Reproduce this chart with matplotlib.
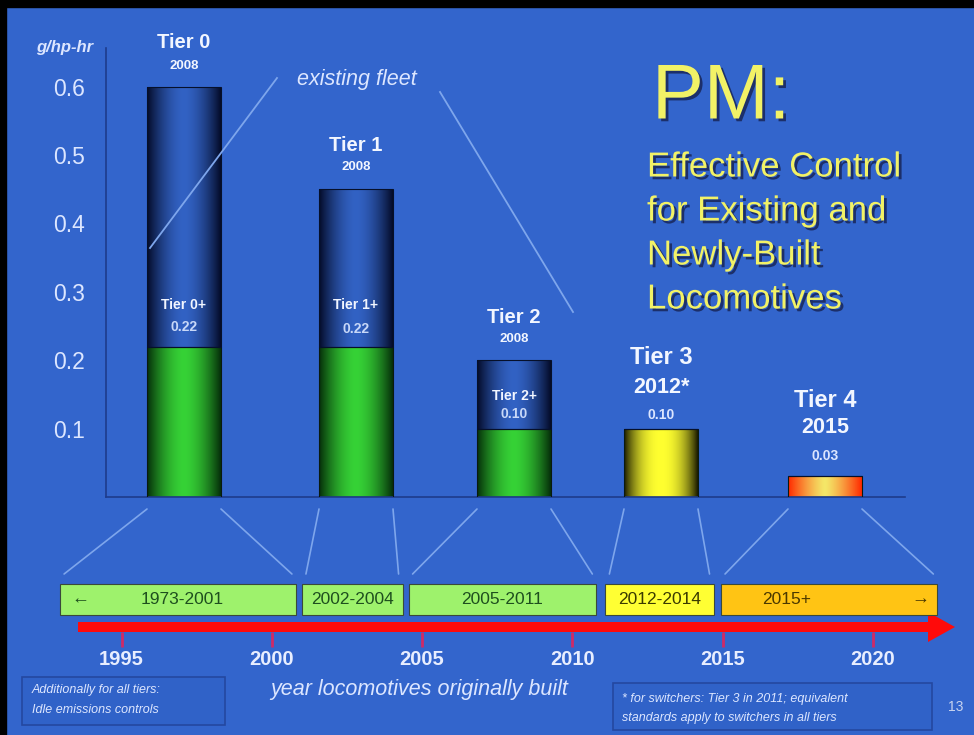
import numpy as np
import matplotlib
matplotlib.use('Agg')
import matplotlib.pyplot as plt
import matplotlib.patheffects as pe
from matplotlib.colors import to_rgb
from matplotlib.patches import Rectangle, FancyArrow, ConnectionPatch

plt.rcParams['font.family'] = ['Liberation Sans', 'DejaVu Sans']

# data
tiers = ['Tier 0', 'Tier 1', 'Tier 2', 'Tier 3', 'Tier 4']
tier_years = ['2008', '2008', '2008', '2012*', '2015']
original = [0.60, 0.45, 0.20, 0.10, 0.03]
reman = [0.22, 0.22, 0.10, None, None]
plus_names = ['Tier 0+', 'Tier 1+', 'Tier 2+']
plus_values = ['0.22', '0.22', '0.10']
new_values = [None, None, None, '0.10', '0.03']
yticks = [0.1, 0.2, 0.3, 0.4, 0.5, 0.6]

ranges = ['1973-2001', '2002-2004', '2005-2011', '2012-2014', '2015+']
years = [1995, 2000, 2005, 2010, 2015, 2020]

# layout (pixels / years)
W, H = 974, 735
BG = '#3365CC'
bar_x = [184, 356, 514, 661, 825]
bar_w = 74
name_off = [44, 44, 43, 71, 76]
year_off = [21, 22, 21, 41, 49]
val_off = [None, None, None, 14, 20]
plus_off = [(42, 20), (42, 18), (33, 15)]
box_left = [1992.95, 2001.0, 2004.55, 2011.1, 2014.95]
box_right = [2000.8, 2004.35, 2010.8, 2014.7, 2022.15]
box_colors = ['#9EF26C', '#9EF26C', '#9EF26C', '#FFFF33', '#FFC414']
box_text = ['#1E4F1E', '#1E4F1E', '#1E4F1E', '#3A3A00', '#4A3800']
yr0, yr1 = 1990.95, 2023.37


def grad(edge, center, n=80, p=1.7):
    t = np.linspace(0, 1, n)
    w = 1 - np.abs(2 * t - 1) ** p
    e = np.array(to_rgb(edge))
    c = np.array(to_rgb(center))
    return (e[None, :] * (1 - w[:, None]) + c[None, :] * w[:, None])[None, :, :]


def fill_bars(ax, bars, grads):
    for b, g in zip(bars, grads):
        if b.get_height() <= 0:
            continue
        x0, y0 = b.get_x(), b.get_y()
        im = ax.imshow(g, extent=(x0, x0 + b.get_width(), y0, y0 + b.get_height()),
                       aspect='auto', zorder=2, interpolation='bicubic')
        im.set_clip_path(b)


fig = plt.figure(figsize=(W / 100, H / 100), dpi=100)
fig.patch.set_facecolor(BG)

bg = fig.add_axes([0, 0, 1, 1], zorder=0)
bg.set_xlim(0, W)
bg.set_ylim(H, 0)
bg.axis('off')
bg.add_patch(Rectangle((0, 0), 6, H, color='black'))
bg.add_patch(Rectangle((0, 0), W, 7, color='black'))

# main chart
ax = fig.add_axes([106 / W, 1 - 497 / H, 799 / W, 449 / H], zorder=2)
ax.patch.set_alpha(0)
lower = [r if r is not None else o for r, o in zip(reman, original)]
upper = [o - l for o, l in zip(original, lower)]
b_low = ax.bar(bar_x, lower, width=bar_w, facecolor='none', edgecolor='#0A1A10', lw=0.8, zorder=3)
b_up = ax.bar(bar_x, upper, bottom=lower, width=bar_w, facecolor='none', edgecolor='#06102A', lw=0.8, zorder=3)
green = grad('#06300A', '#36D236')
low_grads = [green, green, green, grad('#1E1E00', '#FFFF30', p=2.2), grad('#FF2A00', '#F4E868', p=1.3)]
fill_bars(ax, b_low, low_grads)
fill_bars(ax, b_up, [grad('#040C2A', '#3262C4')] * 5)

ax.set_xlim(106, 905)
ax.set_ylim(0, 449 / 684)
ax.set_xticks([])
ax.set_yticks(yticks)
ax.set_yticklabels([f'{v:.1f}' for v in yticks])
ax.tick_params(axis='y', length=0, pad=15, labelsize=16.5, labelcolor='#DCE6FF')
for s in ['top', 'right']:
    ax.spines[s].set_visible(False)
for s in ['left', 'bottom']:
    ax.spines[s].set_color('#1E3C8C')
    ax.spines[s].set_linewidth(1.2)

bg.text(93, 47, 'g/hp-hr', ha='right', va='center', fontsize=12, fontweight='bold',
        style='italic', color='#DCE6FF')

k = 72 / 100
for i, (x, top) in enumerate(zip(bar_x, original)):
    big = i >= 3
    ax.annotate(tiers[i], (x, top), xytext=(0, name_off[i] * k), textcoords='offset points',
                ha='center', va='center', fontsize=17 if big else 14.5, fontweight='bold',
                color='#F2F6FF', annotation_clip=False)
    ax.annotate(tier_years[i], (x, top), xytext=(0, year_off[i] * k), textcoords='offset points',
                ha='center', va='center', fontsize=15.5 if big else 9.5, fontweight='bold',
                color='#F2F6FF', annotation_clip=False)
    if new_values[i]:
        ax.annotate(new_values[i], (x, top), xytext=(0, val_off[i] * k), textcoords='offset points',
                    ha='center', va='center', fontsize=10, fontweight='bold', color='#DCE6FF')
for i in range(3):
    ax.annotate(plus_names[i], (bar_x[i], reman[i]), xytext=(0, plus_off[i][0] * k),
                textcoords='offset points', ha='center', va='center', fontsize=10,
                fontweight='bold', color='#F2F6FF', zorder=5)
    ax.annotate(plus_values[i], (bar_x[i], reman[i]), xytext=(0, plus_off[i][1] * k),
                textcoords='offset points', ha='center', va='center', fontsize=10,
                fontweight='bold', color='#C8D8F8', zorder=5)

# existing fleet callout
ax.text(357, (497 - 80) / 684, 'existing fleet', ha='center', va='center', fontsize=15.5,
        style='italic', color='#DCE6FF')
ax.plot([277, 150], [(497 - 78) / 684, (497 - 248) / 684], color='#7EA6EC', lw=1.3, zorder=4, clip_on=False)
ax.plot([440, 573], [(497 - 92) / 684, (497 - 312) / 684], color='#7EA6EC', lw=1.3, zorder=4, clip_on=False)

# title block
shadow = [pe.withSimplePatchShadow(offset=(2, -2), shadow_rgbFace='#1A2A60', alpha=0.9)]
bg.text(652, 98, 'PM:', ha='left', va='center', fontsize=56, color='#F2F266', path_effects=shadow)
for j, line in enumerate(['Effective Control', 'for Existing and', 'Newly-Built', 'Locomotives']):
    bg.text(647, 167 + 44 * j, line, ha='left', va='center', fontsize=25,
            color='#F2F266', path_effects=shadow)

# timeline
tl = fig.add_axes([0, 1 - 632 / H, 1, 57 / H], zorder=1)
tl.patch.set_alpha(0)
tl.set_xlim(yr0, yr1)
tl.set_ylim(632, 575)
for s in tl.spines.values():
    s.set_visible(False)
tl.set_yticks([])
tl.set_xticks(years)
tl.set_xticklabels([str(y) for y in years])
tl.tick_params(axis='x', direction='out', length=11, width=2, color='#D02A66', pad=2,
               labelsize=14.5, labelcolor='#E8EEFF')
for lbl in tl.get_xticklabels():
    lbl.set_fontweight('bold')

px = (yr1 - yr0) / W
tl.add_patch(FancyArrow(78 * px + yr0, 627, (955 - 78) * px, 0, width=10, head_width=30,
                        head_length=27 * px, length_includes_head=True, color='#FF0A0A',
                        lw=0, clip_on=False, zorder=2))
for i in range(5):
    tl.add_patch(Rectangle((box_left[i], 584), box_right[i] - box_left[i], 31,
                           facecolor=box_colors[i], edgecolor='#3A4A3A', lw=0.8, zorder=3))
    cx = (box_left[i] + box_right[i]) / 2
    if i == 4:
        cx = 787 * px + yr0
    elif i == 0:
        cx = 182 * px + yr0
    tl.text(cx, 600, ranges[i], ha='center', va='center', fontsize=12.5, color=box_text[i], zorder=4)
tl.text(80 * px + yr0, 599, '←', ha='center', va='center', fontsize=13, fontweight='bold',
        color=box_text[0], zorder=4)
tl.text(920 * px + yr0, 599, '→', ha='center', va='center', fontsize=13, fontweight='bold',
        color=box_text[4], zorder=4)

# connectors from bars to timeline boxes
inset = 4 * px
for i, x in enumerate(bar_x):
    for xa, xb in [(x - bar_w / 2, box_left[i] + inset), (x + bar_w / 2, box_right[i] - inset)]:
        con = ConnectionPatch(xyA=(xa, -12 / 684), coordsA=ax.transData,
                              xyB=(xb, 574), coordsB=tl.transData,
                              color='#7EA6EC', lw=1.2, zorder=1)
        fig.add_artist(con)

# footnotes
bg.text(419, 690, 'year locomotives originally built', ha='center', va='center',
        fontsize=15.5, style='italic', color='#DCE6FF')
bg.add_patch(Rectangle((22, 677), 203, 48, facecolor='#3062C8', edgecolor='#2448A0', lw=1.2))
bg.text(32, 690, 'Additionally for all tiers:', ha='left', va='center', fontsize=9,
        style='italic', color='#DCE6FF')
bg.text(32, 710, 'Idle emissions controls', ha='left', va='center', fontsize=9,
        style='italic', color='#DCE6FF')
bg.add_patch(Rectangle((613, 683), 319, 47, facecolor='#3062C8', edgecolor='#2448A0', lw=1.2))
bg.text(622, 699, '* for switchers: Tier 3 in 2011; equivalent', ha='left', va='center',
        fontsize=9, style='italic', color='#DCE6FF')
bg.text(622, 718, 'standards apply to switchers in all tiers', ha='left', va='center',
        fontsize=9, style='italic', color='#DCE6FF')
bg.text(956, 707, '13', ha='center', va='center', fontsize=10, color='#C8D4F0')

fig.savefig('out.png', dpi=100, facecolor=fig.get_facecolor())
